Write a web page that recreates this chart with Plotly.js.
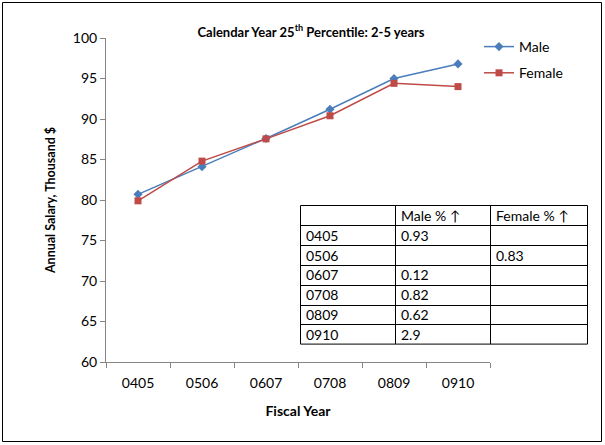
<!DOCTYPE html>
<html><head><meta charset="utf-8">
<script src="https://cdn.plot.ly/plotly-3.0.1.min.js"></script>
<style>html,body{margin:0;padding:0;background:#fff}#chart{width:605px;height:445px}</style>
</head><body><div id="chart"></div>
<script>
const years = ["0405","0506","0607","0708","0809","0910"];
const male = [80.7, 84.1, 87.6, 91.2, 95.0, 96.8];
const female = [79.9, 84.8, 87.55, 90.4, 94.4, 94.0];
const tableHeader = ["", "Male % \u2191", "Female % \u2191"];
const malePct = ["0.93", "", "0.12", "0.82", "0.62", "2.9"];
const femalePct = ["", "0.83", "", "", "", ""];

const FONT = "Lato, 'Liberation Sans', sans-serif";
const W = 605, H = 445, ML = 106, MR = 14, MT = 38, MB = 83;
const PW = W - ML - MR, PH = H - MT - MB;
const px = x => (x - ML) / PW;
const py = y => (H - MB - y) / PH;

// table geometry (pixels)
const colEdges = [300.5, 395.5, 490.5, 587.5];
const tTop = 205.5, rowH = 19.8;
const tableRows = [tableHeader].concat(years.map((y, i) => [y, malePct[i], femalePct[i]]));
const nRows = tableRows.length;
const tBottom = tTop + rowH * nRows;

const shapes = [{type:'rect', xref:'paper', yref:'paper', x0:px(2.5), x1:px(601.5), y0:py(441.5), y1:py(2.5),
  line:{color:'#000', width:1}},
  {type:'rect', xref:'paper', yref:'paper', x0:px(colEdges[0]), x1:px(colEdges[3]), y0:py(tBottom), y1:py(tTop),
  fillcolor:'#fff', line:{color:'#000', width:1}, layer:'above'}];
for (let r = 1; r < nRows; r++) {
  const yy = Math.round(tTop + rowH * r) + 0.5;
  shapes.push({type:'line', xref:'paper', yref:'paper', x0:px(colEdges[0]), x1:px(colEdges[3]), y0:py(yy), y1:py(yy),
    line:{color:'#000', width:1}, layer:'above'});
}
for (let c = 1; c < 3; c++) {
  shapes.push({type:'line', xref:'paper', yref:'paper', x0:px(colEdges[c]), x1:px(colEdges[c]), y0:py(tBottom), y1:py(tTop),
    line:{color:'#000', width:1}, layer:'above'});
}
const annotations = [];
tableRows.forEach((row, r) => row.forEach((txt, c) => {
  if (!txt) return;
  annotations.push({xref:'paper', yref:'paper', x:px(colEdges[c] + 3), y:py(tTop + rowH * (r + 0.5)),
    xanchor:'left', yanchor:'middle', text:txt, showarrow:false, font:{family:FONT, size:14, color:'#000'}});
}));

const traces = [
  {type:'scatter', mode:'lines+markers', name:'Male', x:years, y:male, legendgroup:'m',
   line:{color:'#4a7ebb', width:1.5}, marker:{symbol:'diamond', size:7, color:'#4a7ebb'}},
  {type:'scatter', mode:'lines+markers', name:'Female', x:years, y:female, legendgroup:'f',
   line:{color:'#be4b48', width:1.5}, marker:{symbol:'square', size:7, color:'#be4b48'}}
];

const layout = {
  width:W, height:H, margin:{l:ML, r:MR, t:MT, b:MB},
  paper_bgcolor:'#fff', plot_bgcolor:'rgba(0,0,0,0)',
  font:{family:FONT, size:14, color:'#000'},
  title:{text:'Calendar Year 25<sup>th</sup> Percentile: 2-5 years', font:{family:FONT, size:13, color:'#000', weight:'bold'},
    x:px(311), xref:'paper', xanchor:'center', y:1-32/H, yref:'container', yanchor:'middle'},
  showlegend:true,
  legend:{x:px(479), y:py(31), xanchor:'left', yanchor:'top', font:{family:FONT, size:14},
    itemwidth:30, traceorder:'grouped', tracegroupgap:5, bgcolor:'rgba(0,0,0,0)'},
  xaxis:{domain:[0, 384/PW], type:'category', range:[-0.5, 5.5], showgrid:false, zeroline:false,
    showline:true, linecolor:'#868686', linewidth:1, ticks:'outside', ticklen:5, tickcolor:'#868686',
    tickson:'boundaries', tickfont:{family:FONT, size:14}, ticklabelstandoff:8,
    title:{text:'Fiscal Year', font:{family:FONT, size:14, weight:'bold'}, standoff:16}},
  yaxis:{range:[60,100], dtick:5, showgrid:false, zeroline:false, showline:true, linecolor:'#868686',
    linewidth:1, ticks:'outside', ticklen:5, tickcolor:'#868686', tickfont:{family:FONT, size:14},
    title:{text:'Annual Salary, Thousand $', font:{family:FONT, size:12.5, weight:'bold'}, standoff:14}},
  shapes:shapes,
  annotations:annotations
};
Plotly.newPlot('chart', traces, layout, {displayModeBar:false});
</script></body></html>
